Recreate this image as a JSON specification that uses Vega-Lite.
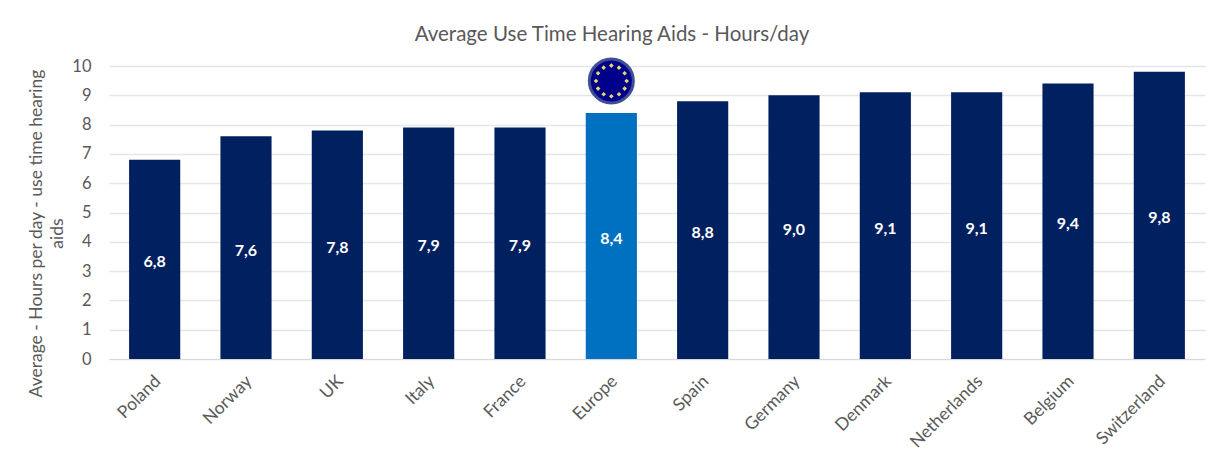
{"$schema":"https://vega.github.io/schema/vega-lite/v6.json","autosize":{"type":"none"},"padding":{"left":109,"top":66,"right":7,"bottom":95},"width":1096,"height":293,"background":"white","title":{"text":"Average Use Time Hearing Aids - Hours/day","font":"Lato","fontSize":20.5,"fontWeight":"normal","color":"#595959","anchor":"middle","dx":-45,"offset":7},"config":{"view":{"stroke":null},"font":"Lato"},"datasets":{"bars":[{"country":"Poland","hours":6.8,"label":"6,8","group":"Country"},{"country":"Norway","hours":7.6,"label":"7,6","group":"Country"},{"country":"UK","hours":7.8,"label":"7,8","group":"Country"},{"country":"Italy","hours":7.9,"label":"7,9","group":"Country"},{"country":"France","hours":7.9,"label":"7,9","group":"Country"},{"country":"Europe","hours":8.4,"label":"8,4","group":"Europe"},{"country":"Spain","hours":8.8,"label":"8,8","group":"Country"},{"country":"Germany","hours":9.0,"label":"9,0","group":"Country"},{"country":"Denmark","hours":9.1,"label":"9,1","group":"Country"},{"country":"Netherlands","hours":9.1,"label":"9,1","group":"Country"},{"country":"Belgium","hours":9.4,"label":"9,4","group":"Country"},{"country":"Switzerland","hours":9.8,"label":"9,8","group":"Country"}],"flag":[{"country":"Europe","pos":9.49}]},"data":{"name":"bars"},"encoding":{"x":{"field":"country","type":"nominal","sort":null,"scale":{"paddingInner":0.44,"paddingOuter":0.22},"axis":{"title":null,"labelAngle":-45,"labelAlign":"right","labelBaseline":"top","labelFont":"Lato","labelFontSize":17.5,"labelColor":"#595959","labelPadding":13,"labelOffset":-3,"labelOverlap":false,"labelLimit":200,"ticks":false,"domainColor":"#d9d9d9","grid":false}}},"layer":[{"mark":{"type":"bar"},"encoding":{"y":{"field":"hours","type":"quantitative","scale":{"domain":[0,10]},"axis":{"values":[0,1,2,3,4,5,6,7,8,9,10],"labelOverlap":false,"title":["Average - Hours per day - use time hearing","aids"],"titleFont":"Lato","titleFontSize":17.5,"titleFontWeight":"normal","titleColor":"#595959","titleLineHeight":21,"titleX":-64,"titleY":167,"labelFont":"Lato","labelFontSize":16.5,"labelColor":"#595959","labelPadding":18,"ticks":false,"domain":false,"grid":true,"gridColor":"#e6e6e6","gridWidth":1.5}},"color":{"field":"group","type":"nominal","scale":{"domain":["Country","Europe"],"range":["#002060","#0070c0"]},"legend":null}}},{"transform":[{"calculate":"datum.hours/2","as":"mid"}],"mark":{"type":"text","font":"Lato","fontSize":16,"fontWeight":"bold","color":"white","baseline":"middle","dy":3},"encoding":{"y":{"field":"mid","type":"quantitative","axis":{"values":[0,1,2,3,4,5,6,7,8,9,10]}},"text":{"field":"label"}}},{"data":{"name":"flag"},"mark":{"type":"point","shape":"circle","filled":true,"size":1936,"fill":"#00008b","stroke":"#3f4f96","strokeWidth":3,"opacity":1},"encoding":{"y":{"field":"pos","type":"quantitative","axis":{"values":[0,1,2,3,4,5,6,7,8,9,10]}}}},{"data":{"name":"flag"},"mark":{"type":"point","filled":true,"size":2116,"fill":"#e8d96a","opacity":1,"strokeWidth":0,"shape":"M0,-.767L.1,-.667L0,-.567L-.1,-.667ZM.333,-.678L.433,-.578L.333,-.478L.233,-.578ZM.578,-.433L.678,-.333L.578,-.233L.478,-.333ZM.667,-.1L.767,0L.667,.1L.567,0ZM.578,.233L.678,.333L.578,.433L.478,.333ZM.333,.478L.433,.578L.333,.678L.233,.578ZM0,.567L.1,.667L0,.767L-.1,.667ZM-.333,.478L-.233,.578L-.333,.678L-.433,.578ZM-.578,.233L-.478,.333L-.578,.433L-.678,.333ZM-.667,-.1L-.567,0L-.667,.1L-.767,0ZM-.578,-.433L-.478,-.333L-.578,-.233L-.678,-.333ZM-.333,-.678L-.233,-.578L-.333,-.478L-.433,-.578Z"},"encoding":{"y":{"field":"pos","type":"quantitative","axis":{"values":[0,1,2,3,4,5,6,7,8,9,10]}}}}]}
